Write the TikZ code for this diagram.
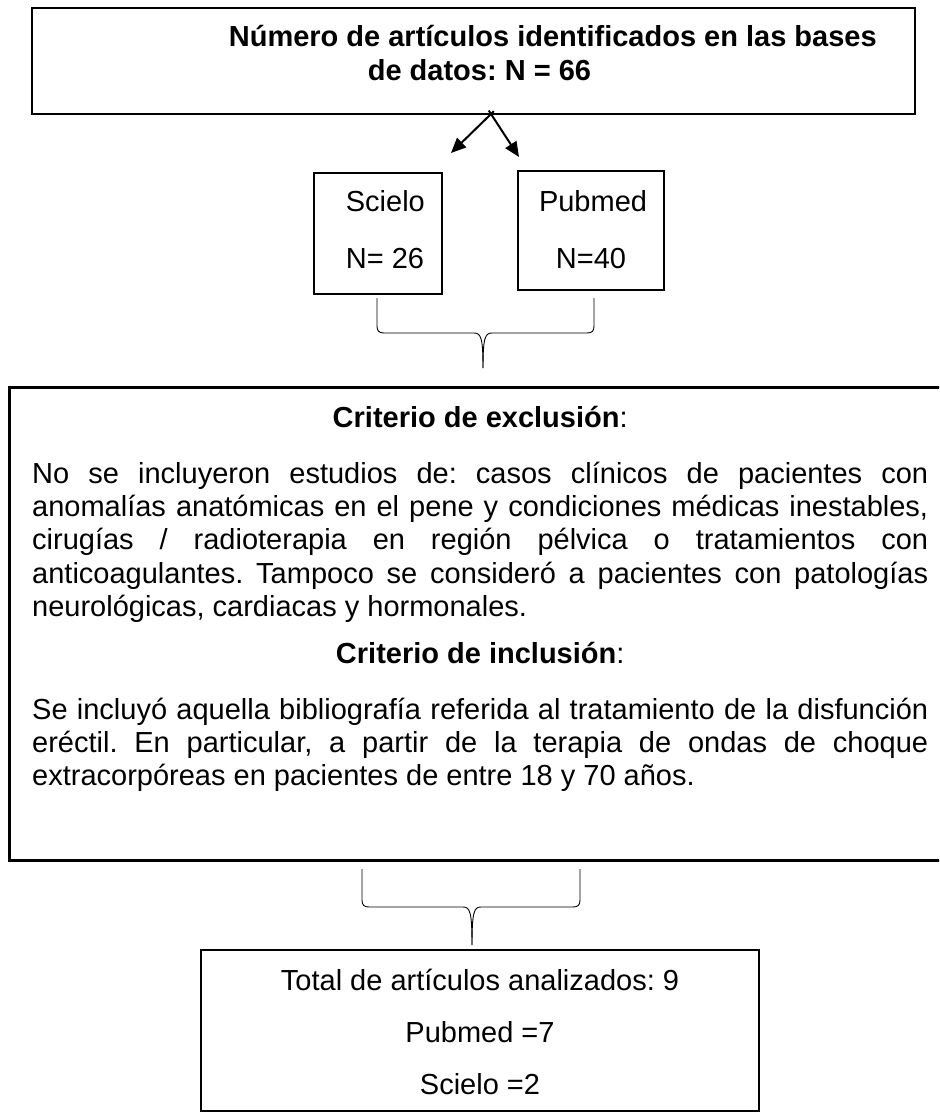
\documentclass[tikz,border=0pt]{standalone}
\usepackage{fontspec}
\setmainfont{Liberation Sans}
\usetikzlibrary{arrows.meta,calc}

\begin{document}
\begin{tikzpicture}[x=1pt,y=-1pt,
	caja/.style={draw, inner sep=0pt},
	llave/.style={line width=0.9pt},
	flecha/.style={line width=2pt, -{Triangle[length=15pt,width=13pt]}}]
	\fontsize{29}{33.4}\selectfont\frenchspacing
	\useasboundingbox (0,0) rectangle (939,1115);
	\clip (0,0) rectangle (939,1115);
	\node[caja, line width=2pt, minimum width=883pt, minimum height=106pt] (N) at (473.5,61) {};
	\node[anchor=base west, font=\bfseries] (N1) at (219,47) {Número de artículos identificados en las bases};
	\node[anchor=base west, font=\bfseries] (N2) at (358,81) {de datos: N = 66};
	
	\node[caja, line width=1.5pt, minimum width=128pt, minimum height=121pt] (S) at (378,233.5) {};
	\node[anchor=base west] (S1) at (336,212) {Scielo};
	\node[anchor=base west] (S2) at (336,268) {N= 26};
	\node[caja, line width=1.5pt, minimum width=146pt, minimum height=119pt] (P) at (591,230.5) {};
	\node[anchor=base] (P1) at (593,212) {Pubmed};
	\node[anchor=base] (P2) at (591,268) {N=40};
	
	\coordinate (A) at (491,114);
	\coordinate (AS) at (451,153);
	\coordinate (AP) at (519,157);
	\draw[flecha] ($(AS)!1.07!(A)$) -- (AS);
	\draw[flecha] ($(AP)!1.08!(A)$) -- (AP);
	
	\draw[llave] (377,298) -- (377,326) .. controls (377,331) and (379,333) .. (384,333) -- (474,333) .. controls (481,333) and (483,338) .. (483,368);
	\draw[llave] (594,298) -- (594,326) .. controls (594,331) and (592,333) .. (587,333) -- (492,333) .. controls (485,333) and (483,338) .. (483,368);
	
	\node[caja, line width=3pt, minimum width=951pt, minimum height=473pt] (C) at (484.5,623.5) {};
	\node[anchor=north west, text width=896pt, align=justify, inner sep=0pt] (C1) at (32,403.6) {\parindent=0pt\parskip=0pt
		\centerline{\strut\textbf{Criterio de exclusión}:}\vspace{22.6pt}
		No se incluyeron estudios de: casos clínicos de pacientes con\linebreak
		anomalías anatómicas en el pene y condiciones médicas inestables,\linebreak
		cirugías / radioterapia en región pélvica o tratamientos con\linebreak
		anticoagulantes. Tampoco se consideró a pacientes con patologías\linebreak
		neurológicas, cardiacas y hormonales.\par\vspace{13pt}
		\centerline{\strut\textbf{Criterio de inclusión}:}\vspace{22.6pt}
		Se incluyó aquella bibliografía referida al tratamiento de la disfunción\linebreak
		eréctil. En particular, a partir de la terapia de ondas de choque\linebreak
		extracorpóreas en pacientes de entre 18 y 70 años.\par};
	
	\draw[llave] (362,869) -- (362,900) .. controls (362,905) and (364,907) .. (369,907) -- (463,907) .. controls (470,907) and (472,912) .. (472,945);
	\draw[llave] (580,869) -- (580,900) .. controls (580,905) and (578,907) .. (573,907) -- (481,907) .. controls (474,907) and (472,912) .. (472,945);
	
	\node[caja, line width=2pt, minimum width=558pt, minimum height=161pt] (T) at (480,1030.5) {};
	\node[anchor=base] (T1) at (480,990) {Total de artículos analizados: 9};
	\node[anchor=base] (T2) at (480,1042) {Pubmed =7};
	\node[anchor=base] (T3) at (480,1094) {Scielo =2};
\end{tikzpicture}
\end{document}
